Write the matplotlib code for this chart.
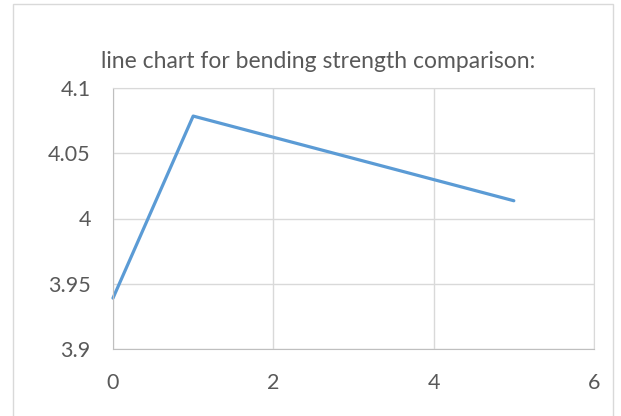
import matplotlib.pyplot as plt
from matplotlib.patches import Rectangle

plt.rcParams['font.family'] = ['Lato', 'DejaVu Sans']

x = [0, 1, 5]
strength = [3.939, 4.0785, 4.0136]
title = "line chart for bending strength comparison:"

fig = plt.figure(figsize=(6.21, 4.16), dpi=100)
# outer chart frame like excel
fig.patches.append(Rectangle((13/621, -0.1), (613-13)/621, 1.1 - 4/416, transform=fig.transFigure,
                             fill=False, edgecolor='#d9d9d9', linewidth=1))
ax = fig.add_axes([113/621, 1 - 349/416, (594-113)/621, (349-88)/416])

ax.plot(x, strength, color='#5b9bd5', linewidth=2.3, solid_capstyle='round', clip_on=False)

ax.set_xlim(0, 6)
ax.set_ylim(3.9, 4.1)
ax.set_xticks([0, 2, 4, 6])
ax.set_yticks([3.9, 3.95, 4.0, 4.05, 4.1])
ax.set_yticklabels(['3.9', '3.95', '4', '4.05', '4.1'])
ax.grid(True, color='#d9d9d9', linewidth=1)
ax.set_axisbelow(True)
for s in ax.spines.values():
    s.set_color('#d9d9d9')
ax.spines['left'].set_color('#bfbfbf')
ax.spines['bottom'].set_color('#bfbfbf')
ax.tick_params(length=0, labelsize=15.5, labelcolor='#595959')
ax.tick_params(axis='x', pad=17)
ax.tick_params(axis='y', pad=16)

fig.text(318/621, 1 - 61/416, title, ha='center', va='center', fontsize=16.5, color='#595959')

fig.savefig('out.png', dpi=100)
